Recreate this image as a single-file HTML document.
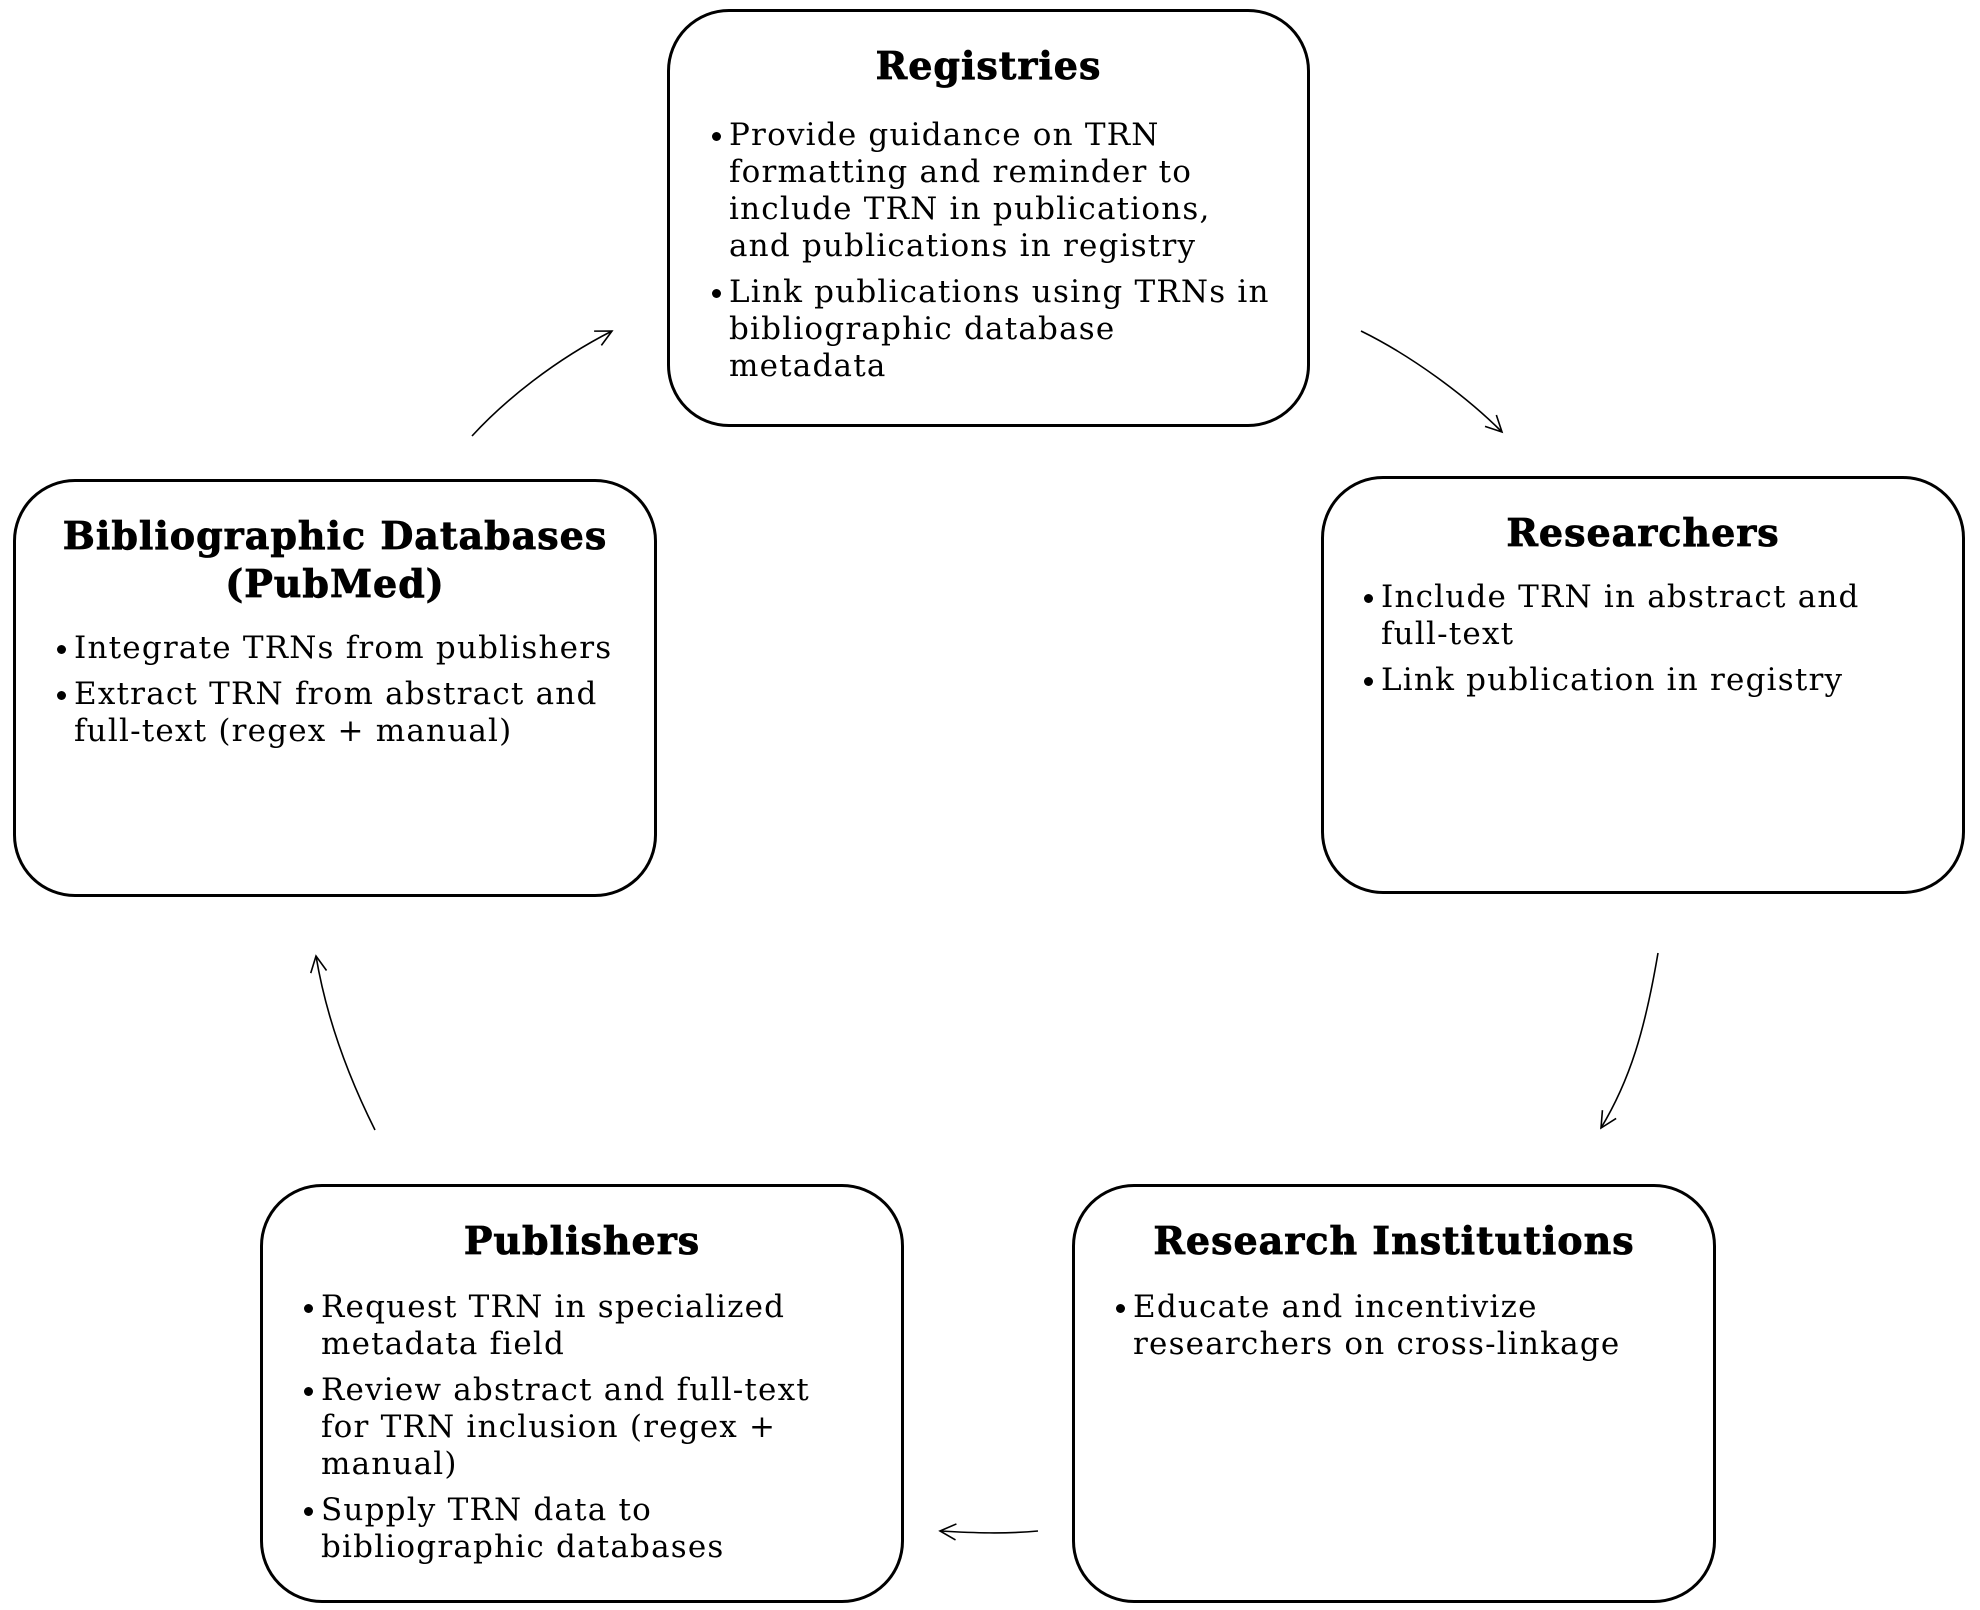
<!DOCTYPE html>
<html><head><meta charset="utf-8"><style>
html,body{margin:0;padding:0;background:#fff;}
body{width:1980px;height:1610px;position:relative;overflow:hidden;font-family:"DejaVu Serif","Liberation Serif",serif;color:#000;}
.box{position:absolute;border:3px solid #000;border-radius:62px;box-sizing:border-box;background:#fff;}
.t{position:absolute;left:0;right:0;text-align:center;font-weight:900;font-size:38px;line-height:48px;letter-spacing:1px;-webkit-text-stroke:0.8px #000;}
ul{position:absolute;margin:0;padding:0;list-style:none;font-size:31px;line-height:37px;letter-spacing:1.2px;white-space:nowrap;}
li{position:relative;padding-left:17px;margin-bottom:9px;}
li:before{content:"";position:absolute;left:0;top:15px;width:9px;height:9px;border-radius:50%;background:#000;}
svg{position:absolute;left:0;top:0;}
</style></head><body>
<svg width="1980" height="1610">
<defs><marker id="a" viewBox="0 0 20 20" refX="18" refY="10" markerWidth="20" markerHeight="20" markerUnits="userSpaceOnUse" orient="auto"><path d="M2,2 L18,10 L2,18" fill="none" stroke="#000" stroke-width="1.6"/></marker></defs>
<g fill="none" stroke="#000" stroke-width="1.6" marker-end="url(#a)">
<path d="M472,436 C505,400 555,360 612,331"/>
<path d="M1361,331 C1410,355 1465,395 1502,432"/>
<path d="M1658,953 C1645,1030 1630,1080 1601,1128"/>
<path d="M1038,1531 C1005,1534 975,1533 940,1531"/>
<path d="M375,1130 C345,1070 325,1010 316,956"/>
</g></svg>

<div class="box" style="left:667px;top:9px;width:643px;height:418px;">
<div class="t" style="top:30px;">Registries</div>
<ul style="left:42px;top:105px;">
<li>Provide guidance on TRN<br>formatting and reminder to<br>include TRN in publications,<br>and publications in registry</li>
<li>Link publications using TRNs in<br>bibliographic database<br>metadata</li>
</ul></div>

<div class="box" style="left:1321px;top:476px;width:644px;height:418px;">
<div class="t" style="top:30px;">Researchers</div>
<ul style="left:40px;top:100px;">
<li>Include TRN in abstract and<br>full-text</li>
<li>Link publication in registry</li>
</ul></div>

<div class="box" style="left:13px;top:479px;width:644px;height:418px;">
<div class="t" style="top:30px;">Bibliographic Databases<br>(PubMed)</div>
<ul style="left:41px;top:148px;">
<li>Integrate TRNs from publishers</li>
<li>Extract TRN from abstract and<br>full-text (regex + manual)</li>
</ul></div>

<div class="box" style="left:260px;top:1184px;width:644px;height:419px;">
<div class="t" style="top:30px;">Publishers</div>
<ul style="left:41px;top:102px;">
<li>Request TRN in specialized<br>metadata field</li>
<li>Review abstract and full-text<br>for TRN inclusion (regex +<br>manual)</li>
<li>Supply TRN data to<br>bibliographic databases</li>
</ul></div>

<div class="box" style="left:1072px;top:1184px;width:644px;height:419px;">
<div class="t" style="top:30px;">Research Institutions</div>
<ul style="left:41px;top:102px;">
<li>Educate and incentivize<br>researchers on cross-linkage</li>
</ul></div>
</body></html>
